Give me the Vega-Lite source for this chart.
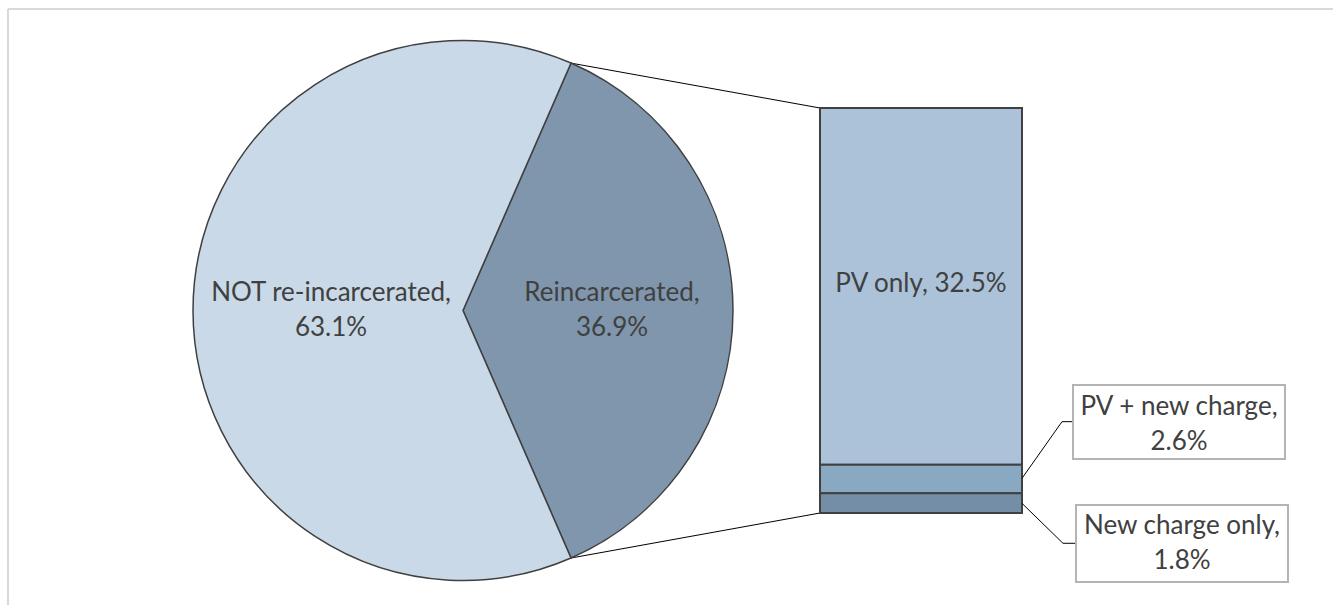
{
  "$schema": "https://vega.github.io/schema/vega-lite/v6.json",
  "autosize": "none",
  "width": 1325,
  "height": 596,
  "padding": {"left": 8, "top": 9, "right": 0, "bottom": 0},
  "background": "white",
  "config": {"view": {"stroke": null}, "text": {"font": "Lato"}},
  "datasets": {
    "pie": [
      {"category": "Reincarcerated", "value": 36.9, "ord": 1},
      {"category": "NOT re-incarcerated", "value": 63.1, "ord": 2}
    ],
    "bar": [
      {"category": "PV only", "value": 32.5, "ord": 3},
      {"category": "PV + new charge", "value": 2.6, "ord": 2},
      {"category": "New charge only", "value": 1.8, "ord": 1}
    ],
    "one": [{}]
  },
  "resolve": {"scale": {"x": "shared", "y": "shared"}},
  "layer": [
    {
      "data": {"name": "one"},
      "mark": {"type": "rule", "color": "#d9d9d9", "strokeWidth": 2},
      "encoding": {
        "x": {"datum": 8, "type": "quantitative", "scale": {"domain": [8, 1333], "nice": false, "zero": false}, "axis": null},
        "x2": {"datum": 1333},
        "y": {"datum": 45.92, "type": "quantitative", "scale": {"domain": [-8.382, 45.92], "nice": false, "zero": false}, "axis": null}
      }
    },
    {
      "data": {"name": "one"},
      "mark": {"type": "rule", "color": "#d9d9d9", "strokeWidth": 2},
      "encoding": {
        "x": {"datum": 8, "type": "quantitative"},
        "y": {"datum": 45.92, "type": "quantitative"},
        "y2": {"datum": -8.382}
      }
    },
    {
      "data": {"name": "one"},
      "mark": {"type": "rule", "color": "#000000", "strokeWidth": 1},
      "encoding": {
        "x": {"datum": 571, "type": "quantitative"},
        "y": {"datum": 40.99, "type": "quantitative"},
        "x2": {"datum": 820},
        "y2": {"datum": 36.9}
      }
    },
    {
      "data": {"name": "one"},
      "mark": {"type": "rule", "color": "#000000", "strokeWidth": 1},
      "encoding": {
        "x": {"datum": 571, "type": "quantitative"},
        "y": {"datum": -4.1, "type": "quantitative"},
        "x2": {"datum": 820},
        "y2": {"datum": 0}
      }
    },
    {
      "data": {"name": "pie"},
      "mark": {"type": "arc", "outerRadius": 270, "stroke": "#404040", "strokeWidth": 1.5},
      "encoding": {
        "theta": {"field": "value", "type": "quantitative", "stack": true, "scale": {"range": [0.41155, 6.69474]}},
        "order": {"field": "ord", "type": "quantitative"},
        "color": {
          "field": "category", "type": "nominal", "legend": null,
          "scale": {
            "domain": ["NOT re-incarcerated", "Reincarcerated", "PV only", "PV + new charge", "New charge only"],
            "range": ["#c9d9e7", "#7f96ad", "#abc2d9", "#89a8c2", "#748ea7"]
          }
        },
        "x": {"datum": 463, "type": "quantitative"},
        "y": {"datum": 18.45, "type": "quantitative"}
      }
    },
    {
      "data": {"name": "pie"},
      "transform": [{"calculate": "datum.category + ',|' + format(datum.value, '.1f') + '%'", "as": "label"}],
      "mark": {"type": "text", "radius": 132, "fontSize": 26, "color": "#404040", "lineBreak": "|", "lineHeight": 35, "dy": -17.5, "align": "center", "baseline": "middle"},
      "encoding": {
        "theta": {"field": "value", "type": "quantitative", "stack": true},
        "order": {"field": "ord", "type": "quantitative"},
        "x": {"datum": 463, "type": "quantitative"},
        "y": {"datum": 18.45, "type": "quantitative"},
        "text": {"field": "label"},
        "opacity": {"condition": {"test": "datum.category === 'NOT re-incarcerated'", "value": 1}, "value": 0}
      }
    },
    {
      "data": {"name": "pie"},
      "transform": [{"calculate": "datum.category + ',|' + format(datum.value, '.1f') + '%'", "as": "label"}],
      "mark": {"type": "text", "radius": 149, "fontSize": 26, "color": "#404040", "lineBreak": "|", "lineHeight": 35, "dy": -17.5, "align": "center", "baseline": "middle"},
      "encoding": {
        "theta": {"field": "value", "type": "quantitative", "stack": true},
        "order": {"field": "ord", "type": "quantitative"},
        "x": {"datum": 463, "type": "quantitative"},
        "y": {"datum": 18.45, "type": "quantitative"},
        "text": {"field": "label"},
        "opacity": {"condition": {"test": "datum.category === 'Reincarcerated'", "value": 1}, "value": 0}
      }
    },
    {
      "data": {"name": "bar"},
      "transform": [
        {"stack": "value", "groupby": [], "sort": [{"field": "ord"}], "as": ["s0", "s1"]}
      ],
      "mark": {"type": "rect", "stroke": "#404040", "strokeWidth": 2},
      "encoding": {
        "x": {"datum": 820, "type": "quantitative"},
        "x2": {"datum": 1022},
        "y": {"field": "s0", "type": "quantitative"},
        "y2": {"field": "s1"},
        "color": {
          "field": "category", "type": "nominal", "legend": null,
          "scale": {
            "domain": ["NOT re-incarcerated", "Reincarcerated", "PV only", "PV + new charge", "New charge only"],
            "range": ["#c9d9e7", "#7f96ad", "#abc2d9", "#89a8c2", "#748ea7"]
          }
        }
      }
    },
    {
      "data": {"name": "bar"},
      "transform": [
        {"stack": "value", "groupby": [], "sort": [{"field": "ord"}], "as": ["s0", "s1"]},
        {"calculate": "(datum.s0 + datum.s1) / 2", "as": "mid"},
        {"calculate": "datum.category + ', ' + format(datum.value, '.1f') + '%'", "as": "label"},
        {"filter": "datum.category === 'PV only'"}
      ],
      "mark": {"type": "text", "fontSize": 26, "color": "#404040", "align": "center", "baseline": "middle", "dy": -2},
      "encoding": {
        "x": {"datum": 921, "type": "quantitative"},
        "y": {"field": "mid", "type": "quantitative"},
        "text": {"field": "label"}
      }
    },
    {
      "data": {"name": "one"},
      "mark": {"type": "rule", "color": "#000000", "strokeWidth": 1},
      "encoding": {
        "x": {"datum": 1022, "type": "quantitative"},
        "y": {"datum": 3.16, "type": "quantitative"},
        "x2": {"datum": 1062},
        "y2": {"datum": 8.32}
      }
    },
    {
      "data": {"name": "one"},
      "mark": {"type": "rule", "color": "#000000", "strokeWidth": 1},
      "encoding": {
        "x": {"datum": 1062, "type": "quantitative"},
        "y": {"datum": 8.32, "type": "quantitative"},
        "x2": {"datum": 1073}
      }
    },
    {
      "data": {"name": "one"},
      "mark": {"type": "rule", "color": "#000000", "strokeWidth": 1},
      "encoding": {
        "x": {"datum": 1022, "type": "quantitative"},
        "y": {"datum": 0.88, "type": "quantitative"},
        "x2": {"datum": 1063},
        "y2": {"datum": -2.76}
      }
    },
    {
      "data": {"name": "one"},
      "mark": {"type": "rule", "color": "#000000", "strokeWidth": 1},
      "encoding": {
        "x": {"datum": 1063, "type": "quantitative"},
        "y": {"datum": -2.76, "type": "quantitative"},
        "x2": {"datum": 1076}
      }
    },
    {
      "data": {"name": "one"},
      "mark": {"type": "rect", "fill": "white", "stroke": "#b4b4b4", "strokeWidth": 2},
      "encoding": {
        "x": {"datum": 1073, "type": "quantitative"},
        "x2": {"datum": 1285},
        "y": {"datum": 11.66, "type": "quantitative"},
        "y2": {"datum": 4.92}
      }
    },
    {
      "data": {"name": "one"},
      "mark": {"type": "rect", "fill": "white", "stroke": "#b4b4b4", "strokeWidth": 2},
      "encoding": {
        "x": {"datum": 1076, "type": "quantitative"},
        "x2": {"datum": 1288},
        "y": {"datum": 0.73, "type": "quantitative"},
        "y2": {"datum": -6.29}
      }
    },
    {
      "data": {"name": "bar"},
      "transform": [
        {"filter": "datum.category === 'PV + new charge'"},
        {"calculate": "datum.category + ',|' + format(datum.value, '.1f') + '%'", "as": "label"}
      ],
      "mark": {"type": "text", "fontSize": 26, "color": "#404040", "lineBreak": "|", "lineHeight": 35, "dy": -17.5, "align": "center", "baseline": "middle"},
      "encoding": {
        "x": {"datum": 1179, "type": "quantitative"},
        "y": {"datum": 8.06, "type": "quantitative"},
        "text": {"field": "label"}
      }
    },
    {
      "data": {"name": "bar"},
      "transform": [
        {"filter": "datum.category === 'New charge only'"},
        {"calculate": "datum.category + ',|' + format(datum.value, '.1f') + '%'", "as": "label"}
      ],
      "mark": {"type": "text", "fontSize": 26, "color": "#404040", "lineBreak": "|", "lineHeight": 35, "dy": -17.5, "align": "center", "baseline": "middle"},
      "encoding": {
        "x": {"datum": 1182, "type": "quantitative"},
        "y": {"datum": -2.82, "type": "quantitative"},
        "text": {"field": "label"}
      }
    }
  ]
}
